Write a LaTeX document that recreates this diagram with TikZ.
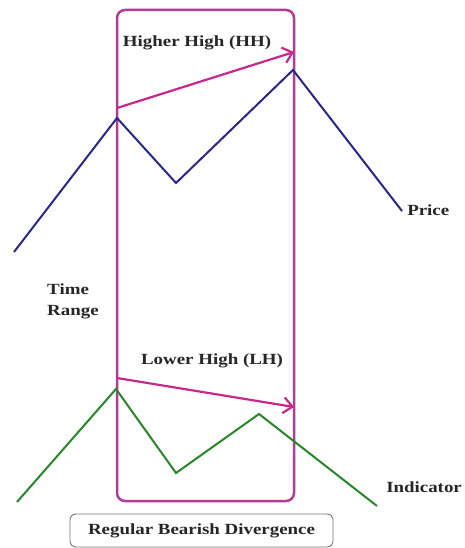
\documentclass[tikz,border=0pt]{standalone}
\usepackage{fontspec}
\setmainfont{Liberation Serif}
\usetikzlibrary{arrows.meta}
\definecolor{pricecol}{RGB}{40,40,140}
\definecolor{indcol}{RGB}{40,135,40}
\definecolor{magcol}{RGB}{200,40,140}
\definecolor{boxcol}{RGB}{180,60,150}
\definecolor{graycol}{RGB}{120,120,120}
\tikzset{
  lbl/.style={font=\fontsize{15.5}{21}\selectfont\bfseries, text=black!85, inner sep=0pt, xscale=1.22},
  priceline/.style={draw=pricecol, line width=2pt, line join=miter},
  indline/.style={draw=indcol, line width=2pt, line join=miter},
  hilite/.style={draw=magcol, line width=2.2pt, -{Straight Barb[length=9pt,width=16pt,line width=2.2pt]}},
  rangebox/.style={draw=boxcol, line width=2.5pt, rounded corners=8pt},
  titlebox/.style={draw=graycol, line width=0.9pt, rounded corners=6pt, minimum width=215.6pt, minimum height=33pt, inner sep=0pt, xscale=1.22, font=\fontsize{15.5}{18}\selectfont\bfseries, text=black!85}
}
\begin{document}
\begin{tikzpicture}[x=1pt,y=-1pt]
\useasboundingbox (0,0) rectangle (464,548);
\fill[white] (0,0) rectangle (464,548);
% range box
\coordinate (bl) at (117,501);
\coordinate (tr) at (294,10);
\draw[rangebox] (bl) rectangle (tr);
% price
\coordinate (p0) at (14,252);
\coordinate (p1) at (117,118);
\coordinate (p2) at (176,183);
\coordinate (p3) at (293,70);
\coordinate (p4) at (402,211);
\draw[priceline] (p0) -- (p1) -- (p2) -- (p3) -- (p4);
% indicator
\coordinate (i0) at (17,502);
\coordinate (i1) at (116,389);
\coordinate (i2) at (176,473);
\coordinate (i3) at (259,414);
\coordinate (i4) at (377,506);
\draw[indline] (i0) -- (i1) -- (i2) -- (i3) -- (i4);
% arrows
\coordinate (hhs) at (117,108);
\coordinate (hhe) at (294,52);
\draw[hilite] (hhs) -- (hhe);
\coordinate (lhs) at (117,378);
\coordinate (lhe) at (294,407);
\draw[hilite] (lhs) -- (lhe);
% labels
\node[lbl] (hh) at (197,43) {Higher High (HH)};
\node[lbl] (lh) at (212,361) {Lower High (LH)};
\node[lbl, anchor=west] (price) at (407,210) {Price};
\node[lbl, anchor=west] (ind) at (386,487) {Indicator};
\node[lbl, anchor=west, align=left] (tr2) at (47,301) {Time\\Range};
\node[titlebox] (title) at (201.5,530.5) {Regular Bearish Divergence\hspace{8pt}};
\end{tikzpicture}
\end{document}
